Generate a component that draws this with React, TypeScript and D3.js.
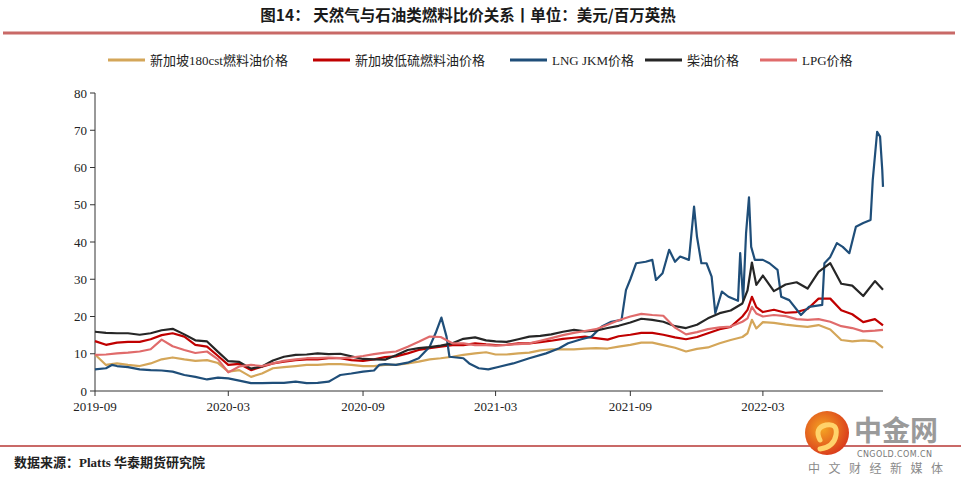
import React from "react";
import * as d3 from "d3";

const dates = [
  "2019-09-01","2019-09-16","2019-10-01","2019-10-16","2019-11-01","2019-11-16","2019-12-01","2019-12-16",
  "2020-01-01","2020-01-16","2020-02-01","2020-02-16","2020-03-01","2020-03-16","2020-04-01","2020-04-16",
  "2020-05-01","2020-05-16","2020-06-01","2020-06-16","2020-07-01","2020-07-16","2020-08-01","2020-08-16",
  "2020-09-01","2020-09-16","2020-10-01","2020-10-16","2020-11-01","2020-11-16","2020-12-01","2020-12-16",
  "2021-01-01","2021-01-16","2021-02-01","2021-02-16","2021-03-01","2021-03-16","2021-04-01","2021-04-16",
  "2021-05-01","2021-05-16","2021-06-01","2021-06-16","2021-07-01","2021-07-16","2021-08-01","2021-08-16",
  "2021-09-01","2021-09-16","2021-10-01","2021-10-16","2021-11-01","2021-11-16","2021-12-01","2021-12-16",
  "2022-01-01","2022-01-16","2022-02-01","2022-02-08","2022-02-14","2022-02-20","2022-03-01","2022-03-16",
  "2022-04-01","2022-04-16","2022-05-01","2022-05-16","2022-06-01","2022-06-16","2022-07-01","2022-07-16",
  "2022-08-01","2022-08-12"
];

const fo180 = [
  9.8,7.0,7.4,7.0,6.7,7.4,8.5,9.0,8.5,8.1,8.3,7.5,5.2,5.6,3.8,4.7,
  6.1,6.4,6.7,7.0,7.0,7.2,7.2,7.0,6.7,6.7,7.0,7.0,7.4,7.9,8.5,8.8,
  9.2,9.7,10.1,10.4,9.8,9.8,10.1,10.3,10.9,11.2,11.2,11.2,11.4,11.5,11.4,11.9,
  12.4,13.0,13.0,12.3,11.6,10.6,11.3,11.7,12.8,13.7,14.5,15.5,19.1,16.8,18.5,18.3,
  17.8,17.5,17.2,17.7,16.5,13.7,13.3,13.6,13.3,11.6
];

const lsfo = [
  13.4,12.4,13.0,13.2,13.2,13.9,15.0,15.5,14.6,12.4,11.9,9.4,7.0,7.3,5.6,6.5,
  7.4,7.9,8.3,8.5,8.5,8.8,8.8,8.3,8.1,8.5,9.1,9.3,10.1,11.0,11.5,11.9,
  12.3,12.3,12.8,12.5,12.3,12.4,12.8,12.8,13.1,13.5,14.0,14.3,14.6,14.2,13.8,14.7,
  15.1,15.6,15.6,15.1,14.4,13.9,14.5,15.5,16.6,17.2,20.0,21.8,25.3,22.5,21.2,21.8,
  21.0,21.2,22.0,24.8,24.8,21.7,20.6,18.5,19.3,17.6
];

const diesel = [
  15.9,15.6,15.5,15.5,15.1,15.5,16.3,16.7,15.2,13.6,13.3,10.5,8.0,7.8,6.0,6.6,
  8.2,9.2,9.7,9.8,10.1,9.9,10.0,9.3,8.6,8.5,8.4,9.6,11.0,11.5,11.8,12.2,
  12.8,14.0,14.4,13.6,13.3,13.2,13.9,14.6,14.8,15.2,15.9,16.4,16.0,16.2,16.9,17.5,
  18.4,19.4,19.1,18.6,17.4,16.9,17.8,19.5,20.9,21.6,23.5,27.0,34.5,28.5,31.0,26.8,
  28.6,29.2,27.5,32.0,34.3,28.8,28.3,25.5,29.5,27.2
];

const lpg = [
  9.7,9.8,10.1,10.3,10.6,11.2,13.8,12.0,11.0,10.2,10.6,8.5,5.0,6.6,7.0,6.7,
  7.4,8.1,8.5,8.8,8.8,9.0,8.8,9.0,9.4,9.9,10.3,10.6,11.9,13.2,14.6,14.5,
  12.8,12.8,12.3,12.3,12.2,12.4,12.6,12.8,13.5,14.2,15.0,15.6,16.1,16.6,17.8,19.0,
  20.0,20.7,20.4,20.2,17.0,15.2,15.8,16.6,17.1,17.3,18.6,19.5,22.6,20.8,20.0,20.4,
  20.1,19.3,19.1,19.3,18.6,17.4,16.9,16.0,16.2,16.4
];

const lngDates = [
  "2019-09-01","2019-09-16","2019-09-24","2019-10-01","2019-10-16","2019-11-01","2019-11-16","2019-12-01",
  "2019-12-16","2020-01-01","2020-01-16","2020-02-01","2020-02-16","2020-03-01","2020-03-16","2020-04-01",
  "2020-04-16","2020-05-01","2020-05-16","2020-06-01","2020-06-16","2020-07-01","2020-07-16","2020-07-24",
  "2020-08-01","2020-08-16","2020-09-01","2020-09-16","2020-09-23","2020-10-01","2020-10-16","2020-11-01",
  "2020-11-16","2020-12-01","2020-12-09","2020-12-17","2020-12-24","2020-12-28","2021-01-16","2021-01-24",
  "2021-02-06","2021-02-19","2021-03-06","2021-03-25","2021-04-16","2021-05-09","2021-05-27","2021-06-08",
  "2021-06-26","2021-07-10","2021-07-24","2021-08-06","2021-08-20","2021-08-26","2021-09-01","2021-09-09",
  "2021-09-22","2021-10-01","2021-10-06","2021-10-15","2021-10-24","2021-11-01","2021-11-08","2021-11-20",
  "2021-11-27","2021-12-01","2021-12-07","2021-12-14","2021-12-21","2021-12-26","2022-01-04","2022-01-13",
  "2022-01-26","2022-01-29","2022-02-02","2022-02-06","2022-02-10","2022-02-13","2022-02-18","2022-03-01",
  "2022-03-10","2022-03-21","2022-03-26","2022-04-06","2022-04-22","2022-05-03","2022-05-21","2022-05-24",
  "2022-06-01","2022-06-10","2022-06-18","2022-06-27","2022-07-06","2022-07-16","2022-07-26","2022-07-29",
  "2022-08-04","2022-08-08","2022-08-11","2022-08-12"
];

const lngJkm = [
  5.8,6.1,7.0,6.7,6.4,5.8,5.6,5.5,
  5.2,4.3,3.8,3.1,3.6,3.4,2.8,2.1,
  2.1,2.2,2.2,2.5,2.1,2.2,2.5,3.4,
  4.3,4.7,5.2,5.5,7.0,7.2,7.0,7.6,
  8.8,11.9,15.5,19.7,14.6,9.2,8.8,7.4,
  6.1,5.8,6.5,7.4,8.8,10.1,11.5,12.8,
  13.9,14.6,17.3,18.6,19.1,27.1,30.0,34.3,
  34.7,35.2,29.8,31.6,37.9,34.7,36.1,35.2,
  49.5,41.4,34.3,34.3,30.7,20.9,26.7,25.3,
  24.2,37.0,24.4,42.3,52.0,38.7,35.2,35.2,
  34.3,32.5,25.3,24.4,20.4,22.6,23.1,34.3,
  36.0,39.7,38.7,37.0,44.1,45.1,45.9,56.6,
  69.6,68.3,59.3,54.8
];

const seriesNames = ["新加坡180cst燃料油价格", "新加坡低硫燃料油价格", "LNG JKM价格", "柴油价格", "LPG价格"];
const seriesColors = ["#d4a659", "#c00000", "#1f4e79", "#262626", "#e06b6b"];
const yTicks = [0, 10, 20, 30, 40, 50, 60, 70, 80];
const xTickLabels = ["2019-09", "2020-03", "2020-09", "2021-03", "2021-09", "2022-03"];

const parse = d3.timeParse("%Y-%m-%d");

export default function App() {
  const left = 95, right = 883, top = 93, bottom = 391;
  const x = d3.scaleTime().domain([parse("2019-09-01")!, parse("2022-08-12")!]).range([left, right]);
  const y = d3.scaleLinear().domain([0, 80]).range([bottom, top]);
  const line = d3.line<[Date, number]>().x(d => x(d[0])).y(d => y(d[1]));

  const common = dates.map(s => parse(s)!);
  const lngD = lngDates.map(s => parse(s)!);
  const series: [Date, number][][] = [
    common.map((d, i) => [d, fo180[i]] as [Date, number]),
    common.map((d, i) => [d, lsfo[i]] as [Date, number]),
    lngD.map((d, i) => [d, lngJkm[i]] as [Date, number]),
    common.map((d, i) => [d, diesel[i]] as [Date, number]),
    common.map((d, i) => [d, lpg[i]] as [Date, number]),
  ];

  const legendX = [108, 313, 510, 645, 760];
  const serif = "'Liberation Serif', 'Noto Sans CJK SC', serif";

  return (
    <svg width={961} height={485} style={{ position: "absolute", left: 0, top: 0, background: "#fff" }}>
      <text x={468} y={21} textAnchor="middle" fontFamily="'Noto Sans CJK SC', sans-serif" fontWeight="bold" fontSize={15.5} fill="#1a1a1a">
        图14：  天然气与石油类燃料比价关系丨单位：美元/百万英热
      </text>
      <line x1={3} x2={955} y1={33} y2={33} stroke="#c0504d" strokeWidth={3} opacity={0.85} />

      {seriesNames.map((n, i) => (
        <g key={n}>
          <line x1={legendX[i]} x2={legendX[i] + 37} y1={60} y2={60} stroke={seriesColors[i]} strokeWidth={3} />
          <text x={legendX[i] + 42} y={65} fontFamily={serif} fontSize={13} fill="#222">{n}</text>
        </g>
      ))}

      <line x1={left} x2={left} y1={top} y2={bottom} stroke="#333" strokeWidth={1} />
      <line x1={left} x2={right} y1={bottom} y2={bottom} stroke="#333" strokeWidth={1} />
      {yTicks.map(t => (
        <g key={t}>
          <line x1={left - 5} x2={left} y1={y(t)} y2={y(t)} stroke="#333" />
          <text x={left - 8} y={y(t) + 4.5} textAnchor="end" fontFamily={serif} fontSize={13} fill="#222">{t}</text>
        </g>
      ))}
      {xTickLabels.map(s => {
        const d = d3.timeParse("%Y-%m")(s)!;
        return (
          <g key={s}>
            <line x1={x(d)} x2={x(d)} y1={bottom} y2={bottom + 5} stroke="#333" />
            <text x={x(d)} y={bottom + 20} textAnchor="middle" fontFamily={serif} fontSize={13} fill="#222">{s}</text>
          </g>
        );
      })}

      {series.map((s, i) => (
        <path key={i} d={line(s) || ""} fill="none" stroke={seriesColors[i]} strokeWidth={2.2} strokeLinejoin="round" />
      ))}

      <line x1={0} x2={961} y1={446} y2={446} stroke="#c0504d" strokeWidth={2} opacity={0.85} />
      <text x={14} y={467} fontFamily={serif} fontSize={13} fontWeight="bold" fill="#222">数据来源：Platts 华泰期货研究院</text>

      <g>
        <defs>
          <radialGradient id="wm" cx="40%" cy="40%" r="70%">
            <stop offset="0%" stopColor="#f5a623" />
            <stop offset="100%" stopColor="#d7301b" />
          </radialGradient>
        </defs>
        <circle cx={827} cy={433} r={22} fill="url(#wm)" />
        <path d="M820,440 q-6,-12 6,-15 q12,-2 10,10 q-2,12 -16,14" fill="none" stroke="#ffd36b" strokeWidth={5} strokeLinecap="round" />
        <text x={854} y={441} fontFamily="'Noto Sans CJK SC', sans-serif" fontWeight="bold" fontSize={28} fill="#9a9a9a">中金网</text>
        <text x={857} y={457} fontFamily="'DejaVu Sans', sans-serif" fontSize={8} fill="#777" letterSpacing={0.4}>CNGOLD.COM.CN</text>
        <text x={808} y={473} fontFamily="'Noto Sans CJK SC', sans-serif" fontSize={12} fill="#8a8a8a" letterSpacing={8.5}>中文财经新媒体</text>
      </g>
    </svg>
  );
}
